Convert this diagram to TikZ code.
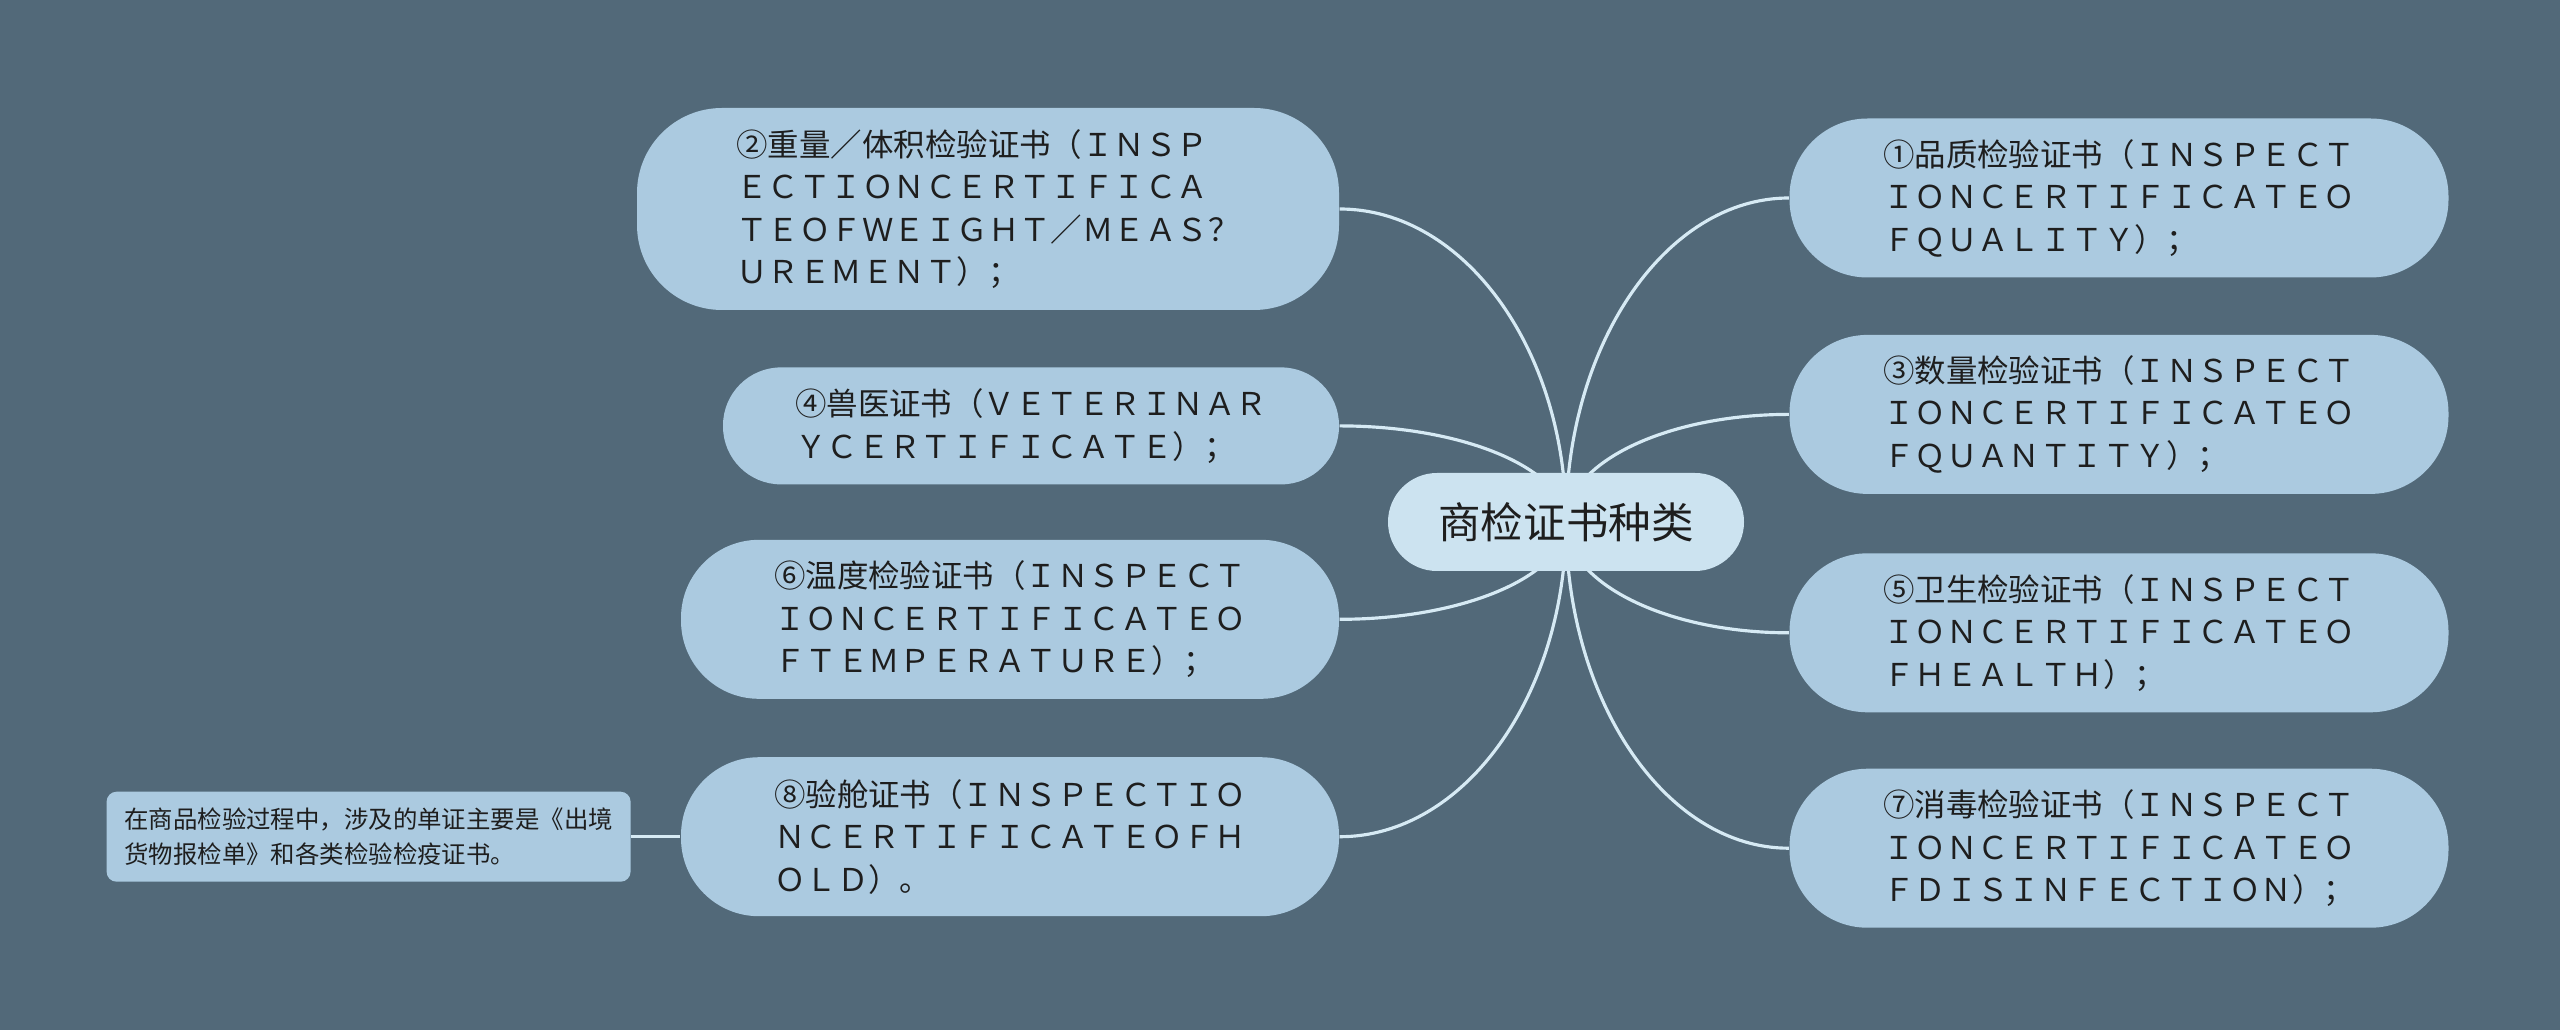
\documentclass[tikz,border=0pt]{standalone}
\usepackage{fontspec}
\setmainfont{Noto Sans CJK SC}
\usepackage{xcolor}
\usepackage{tikz}
\usetikzlibrary{calc, positioning, backgrounds}
\definecolor{bgSlate}{RGB}{82,105,121}
\definecolor{leafBlue}{RGB}{171,202,224}
\definecolor{topicBlue}{RGB}{204,227,240}
\definecolor{branchLine}{RGB}{214,234,244}
\definecolor{inkDark}{RGB}{30,30,30}
\tikzset{
    topic/.style={rectangle, fill=topicBlue, rounded corners=0.49cm, minimum width=3.56cm, minimum height=0.98cm, inner sep=0pt, text=inkDark, font=\fontsize{12.1pt}{14pt}\selectfont},
    leaf/.style={rectangle, fill=leafBlue, rounded corners=0.78cm, minimum width=6.59cm, minimum height=1.59cm, inner sep=0pt, align=left, text=inkDark, font=\fontsize{8.95pt}{12.1pt}\selectfont},
    memo/.style={rectangle, fill=leafBlue, rounded corners=0.1cm, minimum width=5.24cm, minimum height=0.9cm, inner sep=0pt, align=left, text=inkDark, font=\fontsize{6.95pt}{9.8pt}\selectfont},
    branch/.style={draw=branchLine, line width=0.9pt}
}
\begin{document}
\begin{tikzpicture}
        \useasboundingbox (0,0) rectangle (25.6,10.3);

        % Centre topic
        \node[topic] (Topic) at (15.66,5.08) {商检证书种类};

        % Left side
        \node[leaf, minimum width=7.02cm, minimum height=2.02cm, rounded corners=0.85cm] (Weight) at (9.88,8.21) {②重量／体积检验证书（ＩＮＳＰ\\ＥＣＴＩＯＮＣＥＲＴＩＦＩＣＡ\\ＴＥＯＦＷＥＩＧＨＴ／ＭＥＡＳ？\\ＵＲＥＭＥＮＴ）；};
        \node[leaf, minimum width=6.16cm, minimum height=1.17cm, rounded corners=0.58cm, below=0.56cm of Weight.south east, anchor=north east] (Vet) {④兽医证书（ＶＥＴＥＲＩＮＡＲ\\ＹＣＥＲＴＩＦＩＣＡＴＥ）；};
        \node[leaf, minimum width=6.58cm, below=0.54cm of Vet.south east, anchor=north east] (Temp) {⑥温度检验证书（ＩＮＳＰＥＣＴ\\ＩＯＮＣＥＲＴＩＦＩＣＡＴＥＯ\\ＦＴＥＭＰＥＲＡＴＵＲＥ）；};
        \node[leaf, minimum width=6.58cm, below=0.57cm of Temp.south east, anchor=north east] (Hold) {⑧验舱证书（ＩＮＳＰＥＣＴＩＯ\\ＮＣＥＲＴＩＦＩＣＡＴＥＯＦＨ\\ＯＬＤ）。};
        \node[memo, left=0.49cm of Hold] (Memo) {在商品检验过程中，涉及的单证主要是《出境\\货物报检单》和各类检验检疫证书。};

        % Right side
        \node[leaf] (Quality) at (21.19,8.32) {①品质检验证书（ＩＮＳＰＥＣＴ\\ＩＯＮＣＥＲＴＩＦＩＣＡＴＥＯ\\ＦＱＵＡＬＩＴＹ）；};
        \node[leaf, below=0.56cm of Quality] (Quantity) {③数量检验证书（ＩＮＳＰＥＣＴ\\ＩＯＮＣＥＲＴＩＦＩＣＡＴＥＯ\\ＦＱＵＡＮＴＩＴＹ）；};
        \node[leaf, below=0.58cm of Quantity] (Health) {⑤卫生检验证书（ＩＮＳＰＥＣＴ\\ＩＯＮＣＥＲＴＩＦＩＣＡＴＥＯ\\ＦＨＥＡＬＴＨ）；};
        \node[leaf, below=0.55cm of Health] (Disinf) {⑦消毒检验证书（ＩＮＳＰＥＣＴ\\ＩＯＮＣＥＲＴＩＦＩＣＡＴＥＯ\\ＦＤＩＳＩＮＦＥＣＴＩＯＮ）；};

        % Branches
        \begin{pgfonlayer}{background}
            \fill[bgSlate] (0,0) rectangle (25.6,10.3);
            \foreach \kid/\side in {Weight/east, Vet/east, Temp/east, Hold/east, Quality/west, Quantity/west, Health/west, Disinf/west}
                \draw[branch] (Topic.center) .. controls ($(Topic.center)!0.55!(Topic.center |- \kid.\side)$) and ($(\kid.\side)!0.55!(Topic.center |- \kid.\side)$) .. (\kid.\side);
            \draw[branch] (Memo) -- (Hold);
        \end{pgfonlayer}

    \end{tikzpicture}
\end{document}
